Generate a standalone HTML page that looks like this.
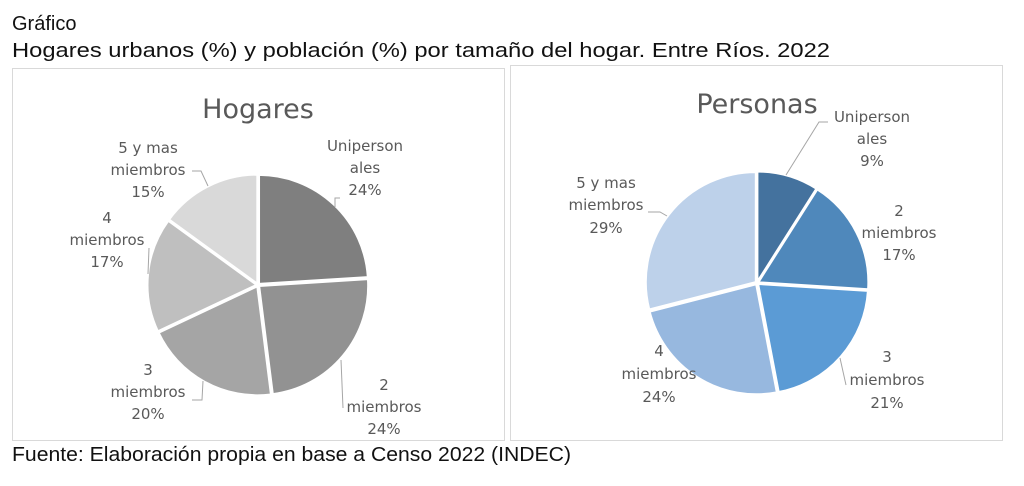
<!DOCTYPE html>
<html><head><meta charset="utf-8">
<style>
html,body{margin:0;padding:0;background:#fff;}
svg{display:block;font-family:"Liberation Sans",sans-serif;}
.l{fill:#595959;text-anchor:middle;font-family:"DejaVu Sans","Liberation Sans",sans-serif;font-size:15px;}
.t{font-size:27px;fill:#595959;text-anchor:middle;font-family:"DejaVu Sans","Liberation Sans",sans-serif;}
.h{font-size:20px;fill:#111;}
.ld{stroke:#a6a6a6;stroke-width:1;fill:none;}
</style></head><body>
<svg id="s" width="1024" height="486" viewBox="0 0 1024 486">
<rect x="0" y="0" width="1024" height="486" fill="#fff"/>
<text class="h" x="12" y="30">Gráfico</text>
<text class="h" x="12" y="57" textLength="818" lengthAdjust="spacingAndGlyphs">Hogares urbanos (%) y población (%) por tamaño del hogar. Entre Ríos. 2022</text>
<text class="h" x="12" y="461" textLength="559" lengthAdjust="spacingAndGlyphs">Fuente: Elaboración propia en base a Censo 2022 (INDEC)</text>
<rect x="12.5" y="68.5" width="492" height="372" fill="#fff" stroke="#d9d9d9"/>
<rect x="510.5" y="65.5" width="492" height="375" fill="#fff" stroke="#d9d9d9"/>
<g id="p1"></g><g id="p2"></g>
<text class="t" x="258" y="118">Hogares</text>
<text class="t" x="757" y="113">Personas</text>

<text class="l" x="365" y="151">Uniperson</text><text class="l" x="365" y="173">ales</text><text class="l" x="365" y="195">24%</text>
<path class="ld" d="M335 207 L335 198 L340 198"/>
<text class="l" x="384" y="390">2</text><text class="l" x="384" y="412">miembros</text><text class="l" x="384" y="434">24%</text>
<path class="ld" d="M341 360 L343 408"/>
<text class="l" x="148" y="375">3</text><text class="l" x="148" y="397">miembros</text><text class="l" x="148" y="419">20%</text>
<path class="ld" d="M192 400 L202 400 L203 381"/>
<text class="l" x="107" y="223">4</text><text class="l" x="107" y="245">miembros</text><text class="l" x="107" y="267">17%</text>
<path class="ld" d="M149 248 L148 274"/>
<text class="l" x="148" y="153">5 y mas</text><text class="l" x="148" y="175">miembros</text><text class="l" x="148" y="197">15%</text>
<path class="ld" d="M192 171 L201 171 L208 186"/>

<text class="l" x="872" y="122">Uniperson</text><text class="l" x="872" y="144">ales</text><text class="l" x="872" y="166">9%</text>
<path class="ld" d="M786 175 L819 122 L828 122"/>
<text class="l" x="899" y="216">2</text><text class="l" x="899" y="238">miembros</text><text class="l" x="899" y="260">17%</text>
<text class="l" x="887" y="362">3</text><text class="l" x="887" y="385">miembros</text><text class="l" x="887" y="408">21%</text>
<path class="ld" d="M840 358 L846 385"/>
<text class="l" x="659" y="356">4</text><text class="l" x="659" y="379">miembros</text><text class="l" x="659" y="402">24%</text>
<text class="l" x="606" y="188">5 y mas</text><text class="l" x="606" y="210">miembros</text><text class="l" x="606" y="233">29%</text>
<path class="ld" d="M648 212 L660 212 L667 216"/>
</svg>
<script>
function pie(id,cx,cy,r,vals,cols){
  var g=document.getElementById(id),a=0,tot=vals.reduce(function(x,y){return x+y},0),h='';
  for(var i=0;i<vals.length;i++){
    var a0=a,a1=a+vals[i]/tot*2*Math.PI;a=a1;
    var m=(a0+a1)/2,dx=Math.sin(m)*1.5,dy=-Math.cos(m)*1.5;
    var x0=cx+dx+r*Math.sin(a0),y0=cy+dy-r*Math.cos(a0),x1=cx+dx+r*Math.sin(a1),y1=cy+dy-r*Math.cos(a1);
    var big=(a1-a0)>Math.PI?1:0;
    h+='<path d="M'+(cx+dx)+' '+(cy+dy)+' L'+x0+' '+y0+' A'+r+' '+r+' 0 '+big+' 1 '+x1+' '+y1+' Z" fill="'+cols[i]+'" stroke="#fff" stroke-width="2"/>';
  }
  g.innerHTML=h;
}
pie('p1',258,285,109,[24,24,20,17,15],['#7f7f7f','#929292','#a5a5a5','#bfbfbf','#d9d9d9']);
pie('p2',757,283,110,[9,17,21,24,29],['#44729e','#4f88bb','#5b9bd5','#97b8df','#bdd1ea']);
</script>
</body></html>
